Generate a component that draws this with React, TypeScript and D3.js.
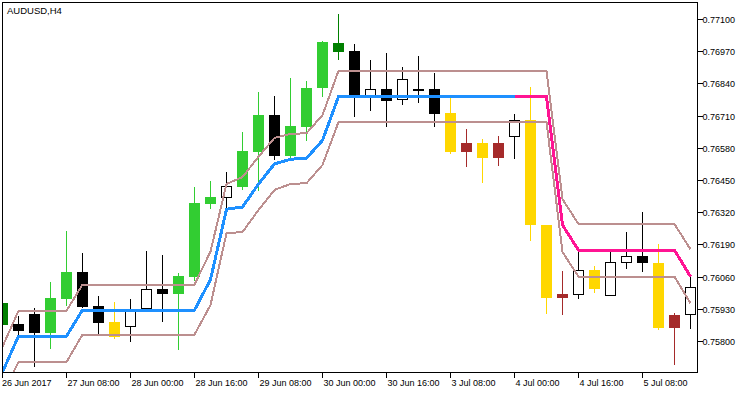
import React from "react";
import * as d3 from "d3";

const title = "AUDUSD,H4";

// Bar index 0 = 26 Jun 2017 16:00 (H4 bars)
const open = [0.75868,0.75871,0.75911,0.75836,0.75973,0.76081,0.75943,0.75879,0.75860,0.75931,0.76013,0.75992,0.76059,0.76355,0.76381,0.76425,0.76566,0.76714,0.76550,0.76667,0.76823,0.77005,0.76973,0.76792,0.76818,0.76774,0.76821,0.76818,0.76723,0.76566,0.76601,0.76542,0.76624,0.76694,0.76272,0.75977,0.75989,0.76089,0.75985,0.76116,0.76144,0.76118,0.75856,0.75906];
const high = [0.75956,0.75903,0.75935,0.76040,0.76247,0.76156,0.75984,0.75960,0.75973,0.76165,0.76149,0.76078,0.76425,0.76448,0.76484,0.76646,0.76807,0.76791,0.76864,0.76852,0.77012,0.77122,0.77001,0.76937,0.76965,0.76908,0.76953,0.76884,0.76788,0.76658,0.76618,0.76630,0.76719,0.76828,0.76272,0.76086,0.76169,0.76105,0.76165,0.76242,0.76323,0.76194,0.75915,0.76060];
const low = [0.75866,0.75825,0.75698,0.75769,0.75943,0.75934,0.75830,0.75811,0.75798,0.75925,0.75879,0.75766,0.76046,0.76336,0.76336,0.76412,0.76409,0.76533,0.76533,0.76611,0.76788,0.76937,0.76708,0.76732,0.76667,0.76756,0.76764,0.76667,0.76557,0.76506,0.76441,0.76510,0.76536,0.76207,0.75912,0.75907,0.75973,0.75997,0.75985,0.76093,0.76082,0.75848,0.75707,0.75849];
const close = [0.75954,0.75844,0.75836,0.75976,0.76081,0.75941,0.75876,0.75819,0.75931,0.76011,0.75992,0.76065,0.76360,0.76382,0.76428,0.76569,0.76714,0.76550,0.76670,0.76823,0.77009,0.76970,0.76795,0.76818,0.76772,0.76859,0.76813,0.76720,0.76566,0.76601,0.76542,0.76601,0.76693,0.76272,0.75977,0.75990,0.76089,0.76012,0.76121,0.76144,0.76116,0.75856,0.75906,0.76019];

// candle signal: U = strong up, u = weak up, D = strong down, d = weak down, "" = plain
const signal = ["u","","","U","U","","","D","","","","U","U","U","","U","U","","U","U","U","u","","","","","","","D","d","D","d","","D","D","d","","D","","","","D","d",""];

const mid = [0.75677,0.75822,0.75822,0.75822,0.75822,0.75927,0.75927,0.75927,0.75927,0.75927,0.75927,0.75927,0.75927,0.76050,0.76334,0.76343,0.76436,0.76517,0.76536,0.76540,0.76612,0.76789,0.76789,0.76789,0.76789,0.76789,0.76789,0.76789,0.76789,0.76789,0.76789,0.76789,0.76789,0.76789,0.76789,0.76270,0.76169,0.76169,0.76169,0.76169,0.76169,0.76169,0.76169,0.76062];
const upper = [0.75779,0.75924,0.75924,0.75924,0.75924,0.76030,0.76030,0.76030,0.76030,0.76030,0.76030,0.76030,0.76030,0.76163,0.76436,0.76464,0.76546,0.76622,0.76638,0.76641,0.76714,0.76893,0.76893,0.76893,0.76893,0.76893,0.76893,0.76893,0.76893,0.76893,0.76893,0.76893,0.76893,0.76893,0.76893,0.76375,0.76274,0.76274,0.76274,0.76274,0.76274,0.76274,0.76274,0.76172];
const lower = [0.75587,0.75717,0.75717,0.75717,0.75717,0.75828,0.75828,0.75828,0.75828,0.75828,0.75828,0.75828,0.75828,0.75947,0.76237,0.76242,0.76331,0.76412,0.76436,0.76439,0.76513,0.76686,0.76686,0.76686,0.76686,0.76686,0.76686,0.76686,0.76686,0.76686,0.76686,0.76686,0.76686,0.76686,0.76686,0.76161,0.76062,0.76062,0.76062,0.76062,0.76062,0.76062,0.76062,0.75954];
const trend = ["up","up","up","up","up","up","up","up","up","up","up","up","up","up","up","up","up","up","up","up","up","up","up","up","up","up","up","up","up","up","up","up","up","dn","dn","dn","dn","dn","dn","dn","dn","dn","dn","dn"];

const yTicks = [0.771, 0.7697, 0.7684, 0.7671, 0.7658, 0.7645, 0.7632, 0.7619, 0.7606, 0.7593, 0.758];
const yTickLabels = ["0.77100","0.76970","0.76840","0.76710","0.76580","0.76450","0.76320","0.76190","0.76060","0.75930","0.75800"];
const xTickIdx = [0, 4, 8, 12, 16, 20, 24, 28, 32, 36, 40];
const xTickLabels = ["26 Jun 2017","27 Jun 08:00","28 Jun 00:00","28 Jun 16:00","29 Jun 08:00","30 Jun 00:00","30 Jun 16:00","3 Jul 08:00","4 Jul 00:00","4 Jul 16:00","5 Jul 08:00"];

const W = 750, H = 394;
const L = 2.5, R = 697.5, T = 2.5, B = 372.5;
const FONT = "'Liberation Sans', Arial, sans-serif";

const colorOf: Record<string, string> = {
  U: "#32CD32",
  u: "#008000",
  D: "#FFD700",
  d: "#A52A2A",
};

export default function App() {
  const n = open.length;
  const x = d3.scaleLinear().domain([0, n - 1]).range([2.5, 2.5 + 16 * (n - 1)]);
  const y = d3.scaleLinear().domain([0.758, 0.771]).range([341.5, 19.5]);
  const idx = d3.range(n);

  const bandLine = (arr: number[]) =>
    d3.line<number>().x((i) => x(i)).y((i) => y(arr[i]))(idx) || "";
  const upPath =
    d3.line<number>().defined((i) => trend[i] === "up").x((i) => x(i)).y((i) => y(mid[i]))(idx) || "";
  const dnPath =
    d3.line<number>()
      .defined((i) => trend[i] === "dn" || (i + 1 < n && trend[i + 1] === "dn"))
      .x((i) => x(i))
      .y((i) => y(mid[i]))(idx) || "";

  const snap = (v: number) => Math.round(v);

  return (
    <div style={{ position: "fixed", left: 0, top: 0, width: W, height: H, background: "#fff" }}>
      <svg width={W} height={H} style={{ display: "block" }}>
        <defs>
          <clipPath id="plot">
            <rect x={L} y={T} width={R - L} height={B - T} />
          </clipPath>
        </defs>
        <rect x={0} y={0} width={W} height={H} fill="#fff" />
        <g clipPath="url(#plot)">
          {idx.map((i) => {
            const cx = x(i);
            const sig = signal[i];
            const top = snap(y(Math.max(open[i], close[i])));
            const bot = snap(y(Math.min(open[i], close[i])));
            const hgt = Math.max(1, bot - top);
            const col = colorOf[sig];
            if (col) {
              return (
                <g key={i} shapeRendering="crispEdges">
                  <line x1={cx} x2={cx} y1={snap(y(high[i]))} y2={snap(y(low[i]))} stroke={col} strokeWidth={1} />
                  <rect x={cx - 5.5} y={top} width={11} height={hgt} fill={col} />
                </g>
              );
            }
            const bull = close[i] >= open[i];
            return (
              <g key={i} shapeRendering="crispEdges">
                <line x1={cx} x2={cx} y1={snap(y(high[i]))} y2={snap(y(low[i]))} stroke="#000" strokeWidth={1} />
                {bull ? (
                  <rect x={cx - 5} y={top + 0.5} width={10} height={Math.max(1, hgt - 1)} fill="#fff" stroke="#000" strokeWidth={1} />
                ) : (
                  <rect x={cx - 5.5} y={top} width={11} height={hgt} fill="#000" />
                )}
              </g>
            );
          })}
          <g shapeRendering="crispEdges">
            <path d={bandLine(upper)} fill="none" stroke="#BC8F8F" strokeWidth={2} />
            <path d={bandLine(lower)} fill="none" stroke="#BC8F8F" strokeWidth={2} />
            <path d={upPath} fill="none" stroke="#1E90FF" strokeWidth={3} />
            <path d={dnPath} fill="none" stroke="#FF1493" strokeWidth={3} />
          </g>
        </g>
        <rect x={L} y={T} width={R - L} height={B - T} fill="none" stroke="#000" strokeWidth={1} shapeRendering="crispEdges" />
        <text x={7} y={13.5} fontFamily={FONT} fontSize={9.5} fill="#000">{title}</text>
        {yTicks.map((v, k) => {
          const ty = Math.floor(y(v)) + 0.5;
          return (
            <g key={k}>
              <line x1={R} x2={R + 5} y1={ty} y2={ty} stroke="#000" strokeWidth={1} shapeRendering="crispEdges" />
              <text x={R + 5} y={ty + 3.5} fontFamily={FONT} fontSize={9} fill="#000">{yTickLabels[k]}</text>
            </g>
          );
        })}
        {xTickIdx.map((bi, k) => {
          const tx = x(bi);
          return (
            <g key={k}>
              <line x1={tx} x2={tx} y1={B} y2={B + 5} stroke="#000" strokeWidth={1} shapeRendering="crispEdges" />
              <text x={k === 0 ? tx - 0.5 : tx + 1} y={385.5} fontFamily={FONT} fontSize={9} fill="#000">{xTickLabels[k]}</text>
            </g>
          );
        })}
      </svg>
    </div>
  );
}
